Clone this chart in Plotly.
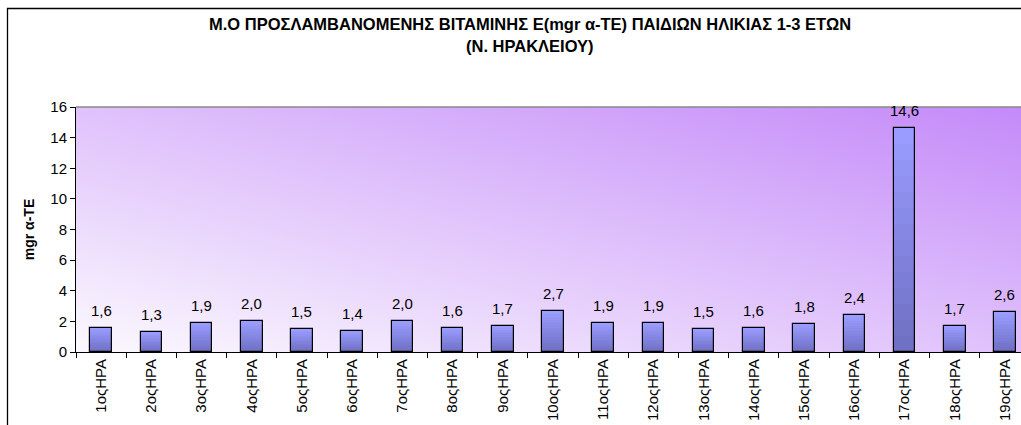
import base64
import plotly.graph_objects as go

categories = [f"{i}οςΗΡΑ" for i in range(1, 20)]
values = [1.6, 1.3, 1.9, 2.0, 1.5, 1.4, 2.0, 1.6, 1.7, 2.7, 1.9, 1.9, 1.5, 1.6, 1.8, 2.4, 14.6, 1.7, 2.6]
labels = [f"{v:.1f}".replace(".", ",") for v in values]
title_lines = ["Μ.Ο ΠΡΟΣΛΑΜΒΑΝΟΜΕΝΗΣ ΒΙΤΑΜΙΝΗΣ Ε(mgr α-ΤΕ) ΠΑΙΔΙΩΝ ΗΛΙΚΙΑΣ 1-3 ΕΤΩΝ", "(Ν. ΗΡΑΚΛΕΙΟΥ)"]
y_title = "mgr α-ΤΕ"

W, H = 1021, 425
ML, MR, MT, MB = 76, 0, 107, 73
FONT = "Liberation Sans, Arial, sans-serif"

x = list(range(len(values)))
fig = go.Figure()

# bar gradient: overlay layers, light at top, dark at bottom
n_layers = 14
top_c = (0x9a, 0x9c, 0xff)
bot_c = (0x70, 0x70, 0xc4)
for k in range(n_layers):
    frac = 1 - k / n_layers
    t = k / (n_layers - 1)
    c = tuple(int(top_c[j] + (bot_c[j] - top_c[j]) * t) for j in range(3))
    fig.add_trace(go.Bar(
        x=x, y=[v * frac for v in values], width=0.43,
        marker=dict(color="rgb(%d,%d,%d)" % c, line=dict(width=0)),
        hoverinfo="skip", showlegend=False))
# outline
fig.add_trace(go.Bar(
    x=x, y=values, width=0.43,
    marker=dict(color="rgba(0,0,0,0)", line=dict(color="black", width=1.2)),
    showlegend=False))

for xi, v, lab in zip(x, values, labels):
    fig.add_annotation(x=xi, y=v, text=lab, showarrow=False, yanchor="bottom",
                       yshift=7, font=dict(family=FONT, size=15, color="black"))

pw = W - ML - MR
ph = H - MT - MB

# title lines as annotations
for line, yc in zip(title_lines, [24, 46]):
    fig.add_annotation(xref="paper", yref="paper", x=(530 - ML) / pw, y=1 + (MT - yc) / ph,
                       xanchor="center", yanchor="middle", showarrow=False,
                       text="<b>" + line + "</b>", font=dict(family=FONT, size=16.5, color="black"))

svg = ('<svg xmlns="http://www.w3.org/2000/svg" width="100" height="100" preserveAspectRatio="none">'
       '<defs><linearGradient id="g" x1="0" y1="1" x2="1" y2="0">'
       '<stop offset="0" stop-color="#fbf9fe"/><stop offset="1" stop-color="#c48af9"/>'
       '</linearGradient></defs><rect width="100" height="100" fill="url(#g)"/></svg>')
src = "data:image/svg+xml;base64," + base64.b64encode(svg.encode()).decode()
fig.add_layout_image(dict(source=src, xref="paper", yref="paper", x=0, y=1, sizex=1, sizey=1,
                          sizing="stretch", xanchor="left", yanchor="top", layer="below"))

# outer chart frame
fig.add_shape(type="rect", xref="paper", yref="paper",
              x0=(7.5 - ML) / pw, x1=1.2, y0=-0.6, y1=1 + (MT - 8.5) / ph,
              line=dict(color="black", width=1.3), fillcolor="rgba(0,0,0,0)", layer="above")
# plot-area top border
fig.add_shape(type="line", xref="paper", yref="paper", x0=0, x1=1, y0=1, y1=1,
              line=dict(color="#888888", width=1.5))

fig.update_layout(
    width=W, height=H, margin=dict(l=ML, r=MR, t=MT, b=MB, autoexpand=False),
    paper_bgcolor="white", plot_bgcolor="rgba(0,0,0,0)",
    barmode="overlay", bargap=0,
    font=dict(family=FONT, size=15, color="black"),
    showlegend=False,
)
fig.update_xaxes(range=[-0.5, 18.32], tickmode="array", tickvals=x, ticktext=categories,
                 tickangle=-90, ticks="", showgrid=False, zeroline=False,
                 showline=True, linecolor="black", linewidth=1,
                 minor=dict(tick0=-0.5, dtick=1, ticks="outside", ticklen=5, tickcolor="black"),
                 tickfont=dict(family=FONT, size=15), fixedrange=True)
fig.update_yaxes(range=[0, 16], dtick=2, ticks="outside", ticklen=5, tickcolor="black",
                 showgrid=False, zeroline=False, showline=True, linecolor="black", linewidth=1,
                 tickfont=dict(family=FONT, size=15), fixedrange=True,
                 title=dict(text="<b>" + y_title + "</b>", font=dict(family=FONT, size=14), standoff=12))

fig.write_html("out.html", config={"displayModeBar": False},
               post_script="document.body.style.margin='0';")
